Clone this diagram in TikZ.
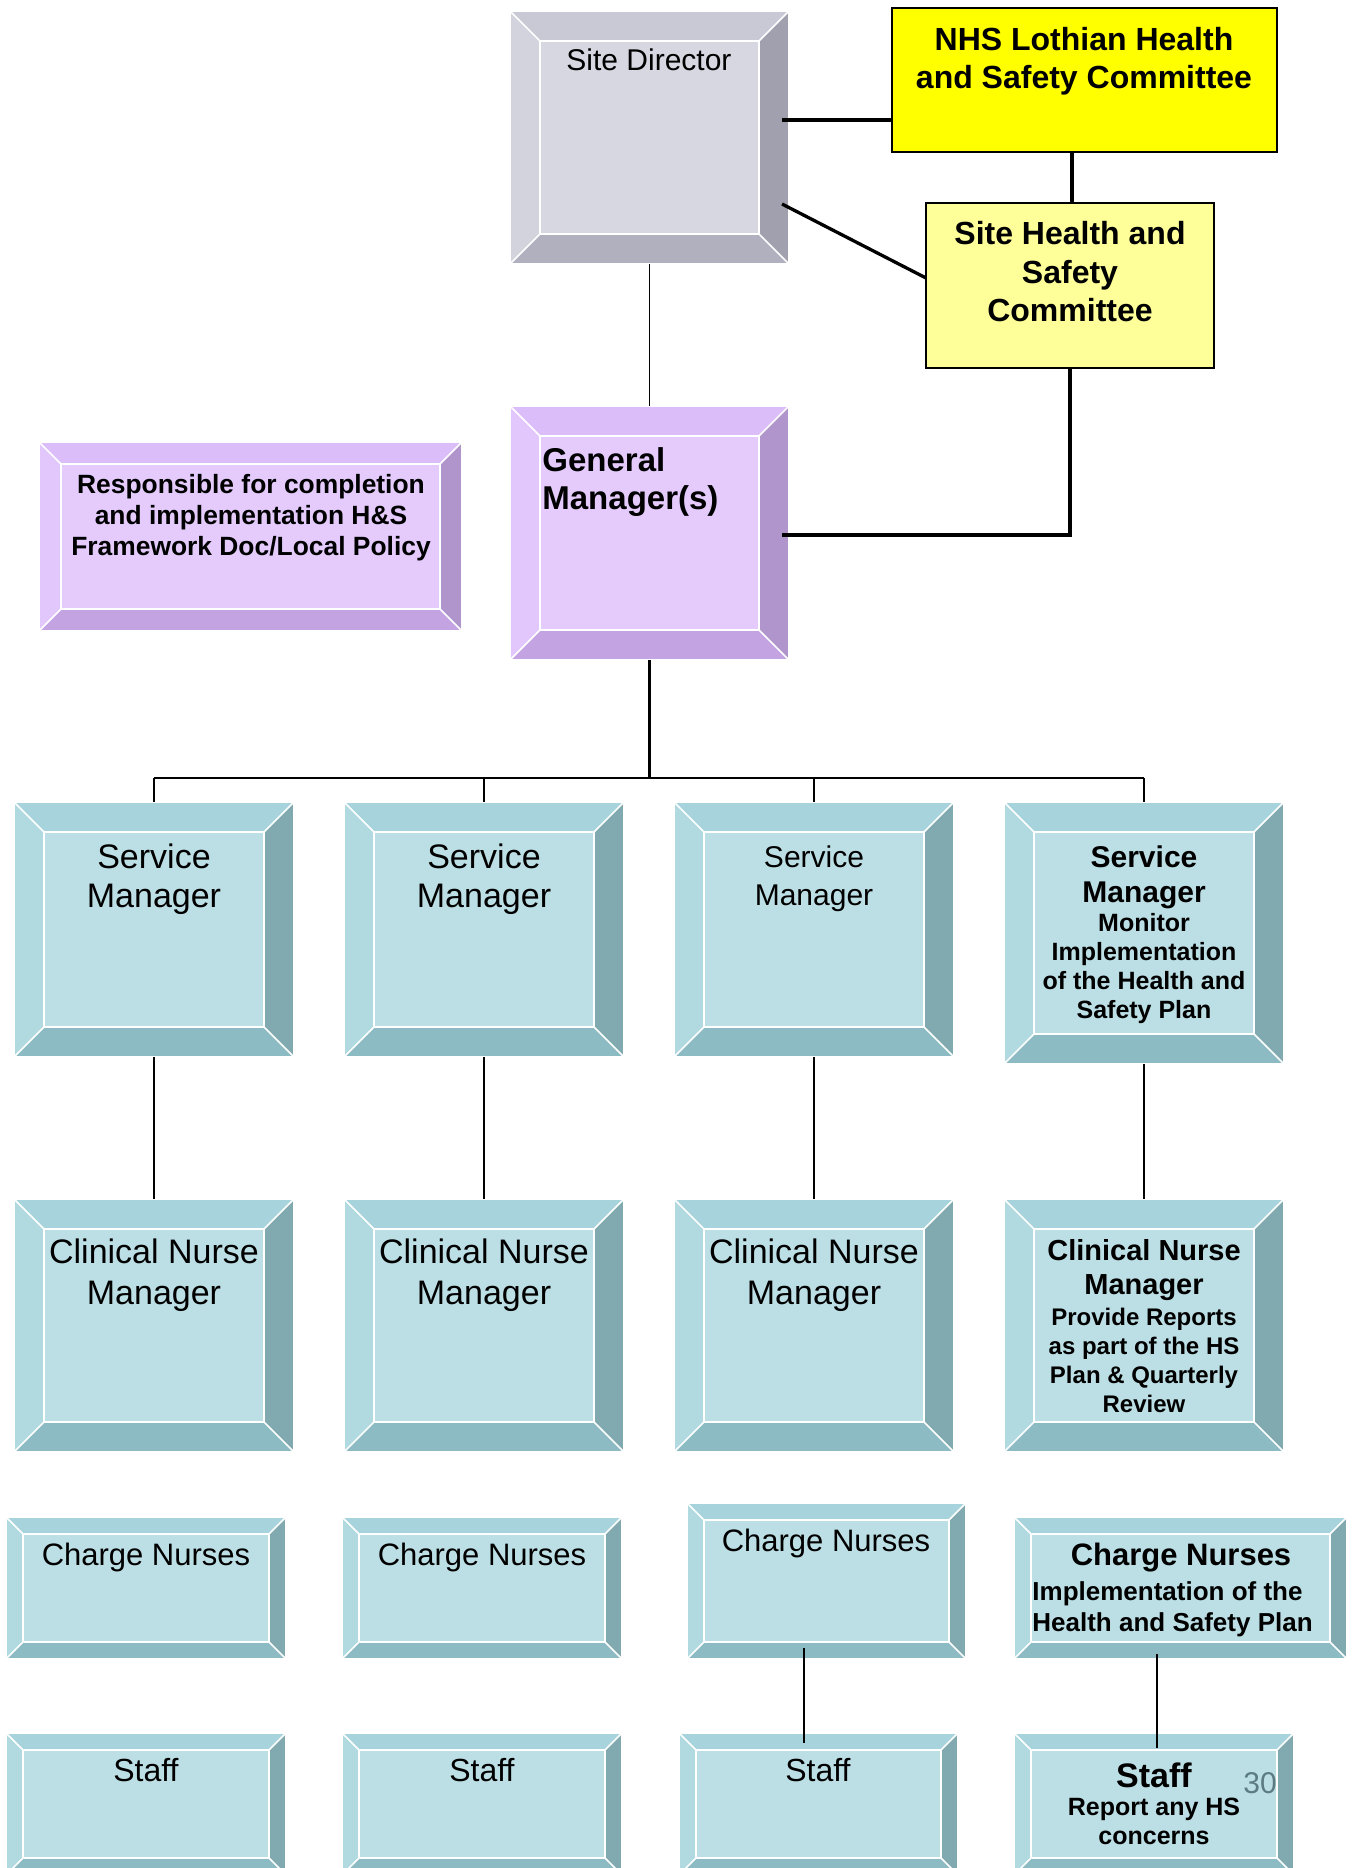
\documentclass[tikz,border=0pt]{standalone}
\usepackage{fontspec}
\setmainfont{Liberation Sans}
\usetikzlibrary{fit}
\definecolor{sdT}{HTML}{C9C9D6}
\definecolor{sdL}{HTML}{D3D3DE}
\definecolor{sdI}{HTML}{D7D7E2}
\definecolor{sdR}{HTML}{A0A0AE}
\definecolor{sdB}{HTML}{B0B0BF}
\definecolor{gmT}{HTML}{DBBEF9}
\definecolor{gmL}{HTML}{E1C7FB}
\definecolor{gmI}{HTML}{E4CBFC}
\definecolor{gmR}{HTML}{AF95CB}
\definecolor{gmB}{HTML}{C4A3E2}
\definecolor{tlT}{HTML}{A7D4DC}
\definecolor{tlL}{HTML}{B0D9E0}
\definecolor{tlI}{HTML}{BCDFE5}
\definecolor{tlR}{HTML}{81A9B0}
\definecolor{tlB}{HTML}{8DBBC3}
\definecolor{nhsY}{HTML}{FFFF00}
\definecolor{shsY}{HTML}{FFFF99}
\definecolor{pgnum}{HTML}{5C7C82}
\newcommand\pxfont[2]{\fontsize{#1}{#2}\selectfont}
\begin{document}
\begin{tikzpicture}[x=0.5pt,y=-0.5pt,
  bev/.style 2 args={inner sep=0pt, outer sep=0pt, draw=white, line width=0.6pt,
    path picture={
      \coordinate (q1) at (path picture bounding box.north west);
      \coordinate (q2) at (path picture bounding box.north east);
      \coordinate (q3) at (path picture bounding box.south east);
      \coordinate (q4) at (path picture bounding box.south west);
      \coordinate (i1) at ([shift={(#2,-#2)}]q1);
      \coordinate (i2) at ([shift={(-#2,-#2)}]q2);
      \coordinate (i3) at ([shift={(-#2,#2)}]q3);
      \coordinate (i4) at ([shift={(#2,#2)}]q4);
      \fill[#1L] (q1) -- (i1) -- (i4) -- (q4) -- cycle;
      \fill[#1T] (q1) -- (q2) -- (i2) -- (i1) -- cycle;
      \fill[#1R] (q2) -- (q3) -- (i3) -- (i2) -- cycle;
      \fill[#1B] (q4) -- (i4) -- (i3) -- (q3) -- cycle;
      \fill[#1I] (i1) rectangle (i3);
      \draw[white, line width=0.8pt] (q1) -- (i1) (q2) -- (i2) (q3) -- (i3) (q4) -- (i4) (i1) rectangle (i3);
    }},
  plainbox/.style={inner sep=0pt, outer sep=0pt, draw=black, line width=1pt},
  txt/.style={anchor=north, align=center, inner sep=0pt},
  thickln/.style={line width=1.65pt},
  treeln/.style={line width=1.15pt},
  thinln/.style={line width=0.8pt}]
\path[use as bounding box] (0,0) rectangle (1351,1868);
\clip (0,0) rectangle (1351,1868);

% top boxes
\node[bev={sd}{15pt}, fit={(510,11) (789,264)}] (sd) {};
\node[plainbox, fill=nhsY, fit={(892,8) (1277,152)}] (nhs) {};
\node[plainbox, fill=shsY, fit={(926,203) (1214,368)}] (shs) {};
\node[bev={gm}{15pt}, fit={(510,406) (789,660)}] (gm) {};
\node[bev={gm}{11pt}, fit={(39,442) (462,631)}] (resp) {};

% service managers
\node[bev={tl}{15pt}, fit={(14,802) (294,1057)}] (sm1) {};
\node[bev={tl}{15pt}, fit={(344,802) (624,1057)}] (sm2) {};
\node[bev={tl}{15pt}, fit={(674,802) (954,1057)}] (sm3) {};
\node[bev={tl}{15pt}, fit={(1004,802) (1284,1064)}] (sm4) {};

% clinical nurse managers
\node[bev={tl}{15pt}, fit={(14,1199) (294,1452)}] (cnm1) {};
\node[bev={tl}{15pt}, fit={(344,1199) (624,1452)}] (cnm2) {};
\node[bev={tl}{15pt}, fit={(674,1199) (954,1452)}] (cnm3) {};
\node[bev={tl}{15pt}, fit={(1004,1199) (1284,1452)}] (cnm4) {};

% charge nurses
\node[bev={tl}{8.5pt}, fit={(6,1517) (286,1659)}] (cn1) {};
\node[bev={tl}{8.5pt}, fit={(342,1517) (622,1659)}] (cn2) {};
\node[bev={tl}{8.5pt}, fit={(687,1503) (966,1659)}] (cn3) {};
\node[bev={tl}{8.5pt}, fit={(1014,1517) (1347,1659)}] (cn4) {};

% staff
\node[bev={tl}{8.5pt}, fit={(6,1733) (286,1875)}] (st1) {};
\node[bev={tl}{8.5pt}, fit={(342,1733) (622,1875)}] (st2) {};
\node[bev={tl}{8.5pt}, fit={(679,1733) (958,1875)}] (st3) {};
\node[bev={tl}{8.5pt}, fit={(1014,1733) (1294,1875)}] (st4) {};

% texts
\node[txt, font=\pxfont{15}{17}] (sdt) at (649,48) {Site Director};
\node[txt, font=\bfseries\pxfont{16}{19}] (nhst) at (1084,27) {NHS Lothian Health\\and Safety Committee};
\node[txt, font=\bfseries\pxfont{16}{19.25}] (shst) at (1070,221) {Site Health and\\Safety\\Committee};
\node[txt, anchor=north west, align=left, font=\bfseries\pxfont{16.5}{19}] (gmt) at (542,447) {General\\Manager(s)};
\node[txt, font=\bfseries\pxfont{13.2}{15.5}] (respt) at (251,474) {Responsible for completion\\and implementation H\&S\\Framework Doc/Local Policy};

\node[txt, font=\pxfont{17}{19.5}] (sm1t) at (154,843) {Service\\Manager};
\node[txt, font=\pxfont{17}{19.5}] (sm2t) at (484,843) {Service\\Manager};
\node[txt, font=\pxfont{15}{19}] (sm3t) at (814,845) {Service\\Manager};
\node[txt, font=\bfseries\pxfont{15}{17.5}] (sm4t) at (1144,845) {Service\\Manager};
\node[txt, font=\bfseries\pxfont{12.5}{14.5}] (sm4b) at (1144,913) {Monitor\\Implementation\\of the Health and\\Safety Plan};

\node[txt, font=\pxfont{17}{20.5}] (cnm1t) at (154,1238) {Clinical Nurse\\Manager};
\node[txt, font=\pxfont{17}{20.5}] (cnm2t) at (484,1238) {Clinical Nurse\\Manager};
\node[txt, font=\pxfont{17}{20.5}] (cnm3t) at (814,1238) {Clinical Nurse\\Manager};
\node[txt, font=\bfseries\pxfont{14.5}{17}] (cnm4t) at (1144,1239) {Clinical Nurse\\Manager};
\node[txt, font=\bfseries\pxfont{12}{14.5}] (cnm4b) at (1144,1308) {Provide Reports\\as part of the HS\\Plan \& Quarterly\\Review};

\node[txt, font=\pxfont{15.5}{18}] (cn1t) at (146,1543) {Charge Nurses};
\node[txt, font=\pxfont{15.5}{18}] (cn2t) at (482,1543) {Charge Nurses};
\node[txt, font=\pxfont{15.5}{18}] (cn3t) at (826,1529) {Charge Nurses};
\node[txt, font=\bfseries\pxfont{15.5}{18}] (cn4t) at (1181,1543) {Charge Nurses};
\node[txt, anchor=north west, align=left, font=\bfseries\pxfont{13}{15.5}] (cn4b) at (1032,1581) {Implementation of the\\Health and Safety Plan};

\node[txt, font=\pxfont{16}{18}] (st1t) at (146,1758) {Staff};
\node[txt, font=\pxfont{16}{18}] (st2t) at (482,1758) {Staff};
\node[txt, font=\pxfont{16}{18}] (st3t) at (818,1758) {Staff};
\node[txt, font=\bfseries\pxfont{17}{19}] (st4t) at (1154,1762) {Staff};
\node[txt, font=\bfseries\pxfont{12.5}{14.5}] (st4b) at (1154,1798) {Report any HS\\concerns};
\node[inner sep=0pt, text=pgnum, font=\pxfont{15}{17}] (pg) at (1260,1783) {30};

% connectors
\coordinate (a1) at (782,120);
\draw[thickln] (a1) -- (a1 -| nhs.west);
\coordinate (b1) at (1072,0);
\draw[thickln] (nhs.south -| b1) -- (shs.north -| b1);
\coordinate (c1) at (782,204);
\coordinate (c2y) at (0,278);
\draw[thickln] (c1) -- (shs.west |- c2y);
\coordinate (d1) at (782,535);
\draw[thickln] (shs.south) |- (d1);
\draw[thinln] (sd.south) -- (gm.north);

\coordinate (bus) at (0,778);
\draw[treeln] (gm.south) -- (gm.south |- bus);
\draw[treeln] (sm1.north |- bus) -- (sm4.north |- bus);
\foreach \i in {1,2,3,4}{
  \draw[treeln] (sm\i.north |- bus) -- (sm\i.north);
  \draw[treeln] (sm\i.south) -- (cnm\i.north);
}
\coordinate (e1) at (804,1648);
\coordinate (e2) at (804,1743);
\draw[thinln] (e1) -- (e2);
\coordinate (f1) at (1157,1654);
\coordinate (f2) at (1157,1748);
\draw[thinln] (f1) -- (f2);
\end{tikzpicture}
\end{document}
